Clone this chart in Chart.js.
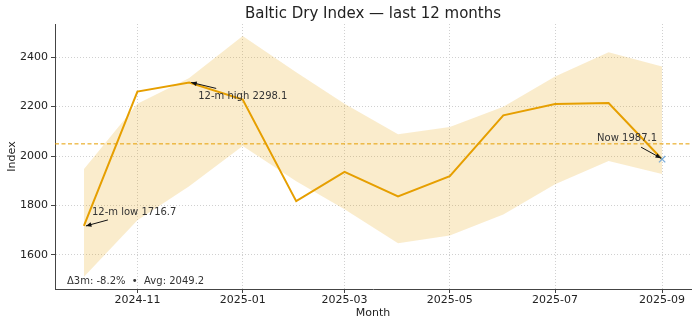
<!DOCTYPE html>
<html>
<head>
<meta charset="utf-8">
<script src="https://cdn.jsdelivr.net/npm/chart.js@4"></script>
<style>
  body { margin: 0; background: #fff; }
  canvas { display: block; }
</style>
</head>
<body>
<canvas id="bdiChart" width="700" height="323"></canvas>
<script>
// days since 2024-10-01 for each monthly reading
const monthDays = [0, 31, 61, 92, 123, 151, 182, 212, 243, 273, 304, 335];
const bdi = [1716.7, 2261, 2298.1, 2229, 1817, 1936, 1836, 1918, 2164.6, 2211, 2215, 1987.1];
const bandUpper = [1947, 2212, 2316, 2486, 2339, 2212, 2088, 2118, 2200, 2322, 2420, 2363];
const bandLower = [1510, 1740, 1877, 2041, 1898, 1784, 1647, 1678, 1763, 1886, 1980, 1927];
const avgValue = 2049.2;
const tickDays = [31, 92, 151, 212, 273, 335];
const tickLabels = ['2024-11', '2025-01', '2025-03', '2025-05', '2025-07', '2025-09'];
const yTicks = [1600, 1800, 2000, 2200, 2400];

const xMin = -16.75, xMax = 351.75;
const yMin = 1461.2, yMax = 2534.8;

const orange = '#E69F00';
const font = 'DejaVu Sans';

function pts(ys) {
  return ys.map((v, i) => ({ x: monthDays[i], y: v }));
}

// notes: [index, text, text offset px, arrow tail offset px, arrow head offset px]
const notes = [
  [0, '12-m low 1716.7', [8, -14], [24, -6], [2, 0]],
  [2, '12-m high 2298.1', [9, 14], [27, 6], [2, 0]],
  [11, 'Now 1987.1', [-65, -21], [-21, -12], [-1, -1]]
];

const annotate = {
  id: 'annotate',
  afterDatasetsDraw(chart) {
    const ctx = chart.ctx;
    const xs = chart.scales.x, ys = chart.scales.y;
    const ca = chart.chartArea;
    ctx.save();
    ctx.font = '10px "' + font + '"';
    ctx.textBaseline = 'middle';
    ctx.textAlign = 'left';
    notes.forEach(n => {
      const px = xs.getPixelForValue(monthDays[n[0]]);
      const py = ys.getPixelForValue(bdi[n[0]]);
      ctx.fillStyle = '#333';
      ctx.fillText(n[1], px + n[2][0], py + n[2][1]);
      const tx = px + n[3][0], ty = py + n[3][1];
      const hx = px + n[4][0], hy = py + n[4][1];
      ctx.strokeStyle = '#111';
      ctx.fillStyle = '#111';
      ctx.lineWidth = 1;
      ctx.beginPath();
      ctx.moveTo(tx, ty);
      ctx.lineTo(hx, hy);
      ctx.stroke();
      const a = Math.atan2(hy - ty, hx - tx);
      ctx.beginPath();
      ctx.moveTo(hx, hy);
      ctx.lineTo(hx - 6 * Math.cos(a - 0.4), hy - 6 * Math.sin(a - 0.4));
      ctx.lineTo(hx - 6 * Math.cos(a + 0.4), hy - 6 * Math.sin(a + 0.4));
      ctx.closePath();
      ctx.fill();
    });
    // summary line in the lower left corner
    ctx.fillStyle = '#333';
    ctx.fillText('\u03943m: -8.2%  \u2022  Avg: 2049.2', ca.left + 12, ca.bottom - 8);
    // title centred over the plot area
    ctx.font = '15px "' + font + '"';
    ctx.textAlign = 'center';
    ctx.fillStyle = '#222';
    ctx.fillText('Baltic Dry Index \u2014 last 12 months', (ca.left + ca.right) / 2, 14);
    ctx.restore();
  }
};

const gridOpts = {
  color: '#d0d0d0',
  tickColor: '#444',
  tickBorderDash: [],
  tickLength: 4
};

const config = {
  type: 'line',
  data: {
    datasets: [
      {
        label: 'upper',
        data: pts(bandUpper),
        borderWidth: 0,
        pointRadius: 0,
        fill: '+1',
        backgroundColor: 'rgba(230,159,0,0.2)'
      },
      {
        label: 'lower',
        data: pts(bandLower),
        borderWidth: 0,
        pointRadius: 0,
        fill: false
      },
      {
        label: 'avg',
        data: [{ x: xMin, y: avgValue }, { x: xMax, y: avgValue }],
        borderColor: orange,
        borderWidth: 1,
        borderDash: [4, 2.5],
        pointRadius: 0,
        fill: false
      },
      {
        label: 'BDI',
        data: pts(bdi),
        borderColor: orange,
        borderWidth: 2,
        pointRadius: 0,
        tension: 0,
        fill: false
      },
      {
        label: 'now',
        order: -1,
        data: [{ x: monthDays[11], y: bdi[11] }],
        showLine: false,
        pointStyle: 'crossRot',
        pointRadius: 4.5,
        pointBorderWidth: 1.3,
        pointBorderColor: 'rgba(110,165,215,0.9)'
      }
    ]
  },
  options: {
    responsive: false,
    animation: false,
    devicePixelRatio: 1,
    layout: { padding: { left: 0, right: 9, top: 24, bottom: 0 } },
    plugins: {
      legend: { display: false },
      tooltip: { enabled: false },
      title: { display: false }
    },
    scales: {
      x: {
        type: 'linear',
        min: xMin,
        max: xMax,
        afterBuildTicks: s => { s.ticks = tickDays.map(v => ({ value: v })); },
        afterFit: s => { s.height = 34; },
        ticks: {
          color: '#222',
          font: { family: font, size: 11 },
          padding: 1,
          maxRotation: 0,
          callback: v => tickLabels[tickDays.indexOf(v)]
        },
        grid: gridOpts,
        border: { display: true, color: '#444', width: 1, dash: [1, 2] },
        title: {
          display: true,
          text: 'Month',
          color: '#222',
          font: { family: font, size: 11 },
          padding: { top: 0, bottom: 3 }
        }
      },
      y: {
        type: 'linear',
        min: yMin,
        max: yMax,
        afterBuildTicks: s => { s.ticks = yTicks.map(v => ({ value: v })); },
        afterFit: s => { s.width = 55; },
        ticks: {
          color: '#222',
          font: { family: font, size: 11 },
          padding: 3,
          callback: v => String(v)
        },
        grid: gridOpts,
        border: { display: true, color: '#444', width: 1, dash: [1, 2] },
        title: {
          display: true,
          text: 'Index',
          color: '#222',
          font: { family: font, size: 11 },
          padding: { top: 6, bottom: 0 }
        }
      }
    }
  },
  plugins: [annotate]
};

var ctx = document.getElementById('bdiChart');
var bdiChart = new Chart(ctx, config);
</script>
</body>
</html>
